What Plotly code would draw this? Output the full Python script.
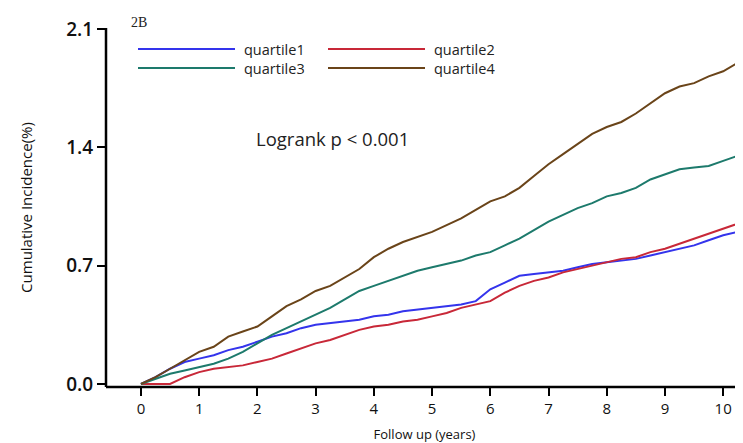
import plotly.graph_objects as go

years = [0, 0.25, 0.5, 0.75, 1, 1.25, 1.5, 1.75, 2, 2.25, 2.5, 2.75, 3, 3.25, 3.5, 3.75,
         4, 4.25, 4.5, 4.75, 5, 5.25, 5.5, 5.75, 6, 6.25, 6.5, 6.75, 7, 7.25, 7.5, 7.75,
         8, 8.25, 8.5, 8.75, 9, 9.25, 9.5, 9.75, 10, 10.25, 10.35]

quartile1 = [0, 0.04, 0.09, 0.13, 0.15, 0.17, 0.20, 0.22, 0.25, 0.28, 0.30, 0.33, 0.35, 0.36, 0.37, 0.38,
             0.40, 0.41, 0.43, 0.44, 0.45, 0.46, 0.47, 0.49, 0.56, 0.60, 0.64, 0.65, 0.66, 0.67, 0.69, 0.71,
             0.72, 0.73, 0.74, 0.76, 0.78, 0.80, 0.82, 0.85, 0.88, 0.90, 0.91]
quartile2 = [0, 0.0, 0.0, 0.04, 0.07, 0.09, 0.10, 0.11, 0.13, 0.15, 0.18, 0.21, 0.24, 0.26, 0.29, 0.32,
             0.34, 0.35, 0.37, 0.38, 0.40, 0.42, 0.45, 0.47, 0.49, 0.54, 0.58, 0.61, 0.63, 0.66, 0.68, 0.70,
             0.72, 0.74, 0.75, 0.78, 0.80, 0.83, 0.86, 0.89, 0.92, 0.95, 0.96]
quartile3 = [0, 0.03, 0.06, 0.08, 0.10, 0.12, 0.15, 0.19, 0.24, 0.29, 0.33, 0.37, 0.41, 0.45, 0.50, 0.55,
             0.58, 0.61, 0.64, 0.67, 0.69, 0.71, 0.73, 0.76, 0.78, 0.82, 0.86, 0.91, 0.96, 1.00, 1.04, 1.07,
             1.11, 1.13, 1.16, 1.21, 1.24, 1.27, 1.28, 1.29, 1.32, 1.35, 1.37]
quartile4 = [0, 0.04, 0.09, 0.14, 0.19, 0.22, 0.28, 0.31, 0.34, 0.40, 0.46, 0.50, 0.55, 0.58, 0.63, 0.68,
             0.75, 0.80, 0.84, 0.87, 0.90, 0.94, 0.98, 1.03, 1.08, 1.11, 1.16, 1.23, 1.30, 1.36, 1.42, 1.48,
             1.52, 1.55, 1.60, 1.66, 1.72, 1.76, 1.78, 1.82, 1.85, 1.90, 1.93]

series_names = ["quartile1", "quartile2", "quartile3", "quartile4"]
series_colors = ["#3434ec", "#c82838", "#1d7a6c", "#6a4419"]
x_ticks = [0, 1, 2, 3, 4, 5, 6, 7, 8, 9, 10]
y_ticks = [0.0, 0.7, 1.4, 2.1]

fig = go.Figure()
for name, vals, col in zip(series_names, [quartile1, quartile2, quartile3, quartile4], series_colors):
    fig.add_trace(go.Scatter(x=years, y=vals, mode="lines", name=name,
                             line=dict(color=col, width=2), showlegend=False))

# The page body has an 8px margin, so the figure sits at (8, 8) in the window.
OFF = 8
W, H = 743 - OFF, 443 - OFF
# plot area in window pixels: x 106..743, y 28..387
L, R, T, B = 106 - OFF, 743 - OFF, 28 - OFF, 387 - OFF
def px(x): return (x - OFF - L) / (R - L)
def py(y): return (B - (y - OFF)) / (B - T)

# axis lines
fig.add_shape(type="line", xref="paper", yref="paper", x0=0, x1=1, y0=0, y1=0,
              line=dict(color="black", width=2.5), layer="above")
fig.add_shape(type="line", xref="paper", yref="paper", x0=0, x1=0, y0=0, y1=1,
              line=dict(color="black", width=2.5), layer="above")

legend_pos = [(138, 235, 242, 49), (328, 425, 432, 49), (138, 235, 242, 68), (328, 425, 432, 68)]
for (x0, x1, tx, yy), name, col in zip(legend_pos, series_names, series_colors):
    fig.add_shape(type="line", xref="paper", yref="paper", x0=px(x0), x1=px(x1), y0=py(yy), y1=py(yy),
                  line=dict(color=col, width=2))
    fig.add_annotation(xref="paper", yref="paper", x=px(tx), y=py(yy), text=name, showarrow=False,
                       xanchor="left", yanchor="middle", height=18,
                       font=dict(family="Open Sans", size=14.5, color="#222"))

fig.add_annotation(xref="paper", yref="paper", x=px(254), y=py(138), text="Logrank p < 0.001",
                   showarrow=False, xanchor="left", yanchor="middle",
                   font=dict(family="Open Sans", size=18.5, color="#222"))
fig.add_annotation(xref="paper", yref="paper", x=px(129), y=py(22), text="2B",
                   showarrow=False, xanchor="left", yanchor="middle",
                   font=dict(family="Liberation Serif", size=14, color="#222"))

fig.update_layout(
    width=W, height=H,
    margin=dict(l=L, r=W - R, t=T, b=H - B, pad=0),
    paper_bgcolor="white", plot_bgcolor="white",
    xaxis=dict(range=[-0.6, 10.34], tickvals=x_ticks, showline=False,
               ticks="outside", ticklen=8, tickwidth=1.5, tickcolor="black", showgrid=False, zeroline=False,
               automargin=False,
               tickfont=dict(family="Open Sans", size=15, color="#111"),
               title=dict(text="Follow up (years)", font=dict(family="Open Sans", size=13, color="#111"), standoff=12)),
    yaxis=dict(range=[-0.018, 2.106], tickvals=y_ticks, tickformat=".1f", showline=False,
               ticks="outside", ticklen=8, tickwidth=1.5, tickcolor="black", showgrid=False,
               zeroline=False, automargin=False,
               tickfont=dict(family="Open Sans", size=19, color="#111", weight=600),
               title=dict(text="Cumulative Incidence(%)", font=dict(family="Open Sans", size=15, color="#111"),
                          standoff=30)),
)

fig.write_html("out.html")
